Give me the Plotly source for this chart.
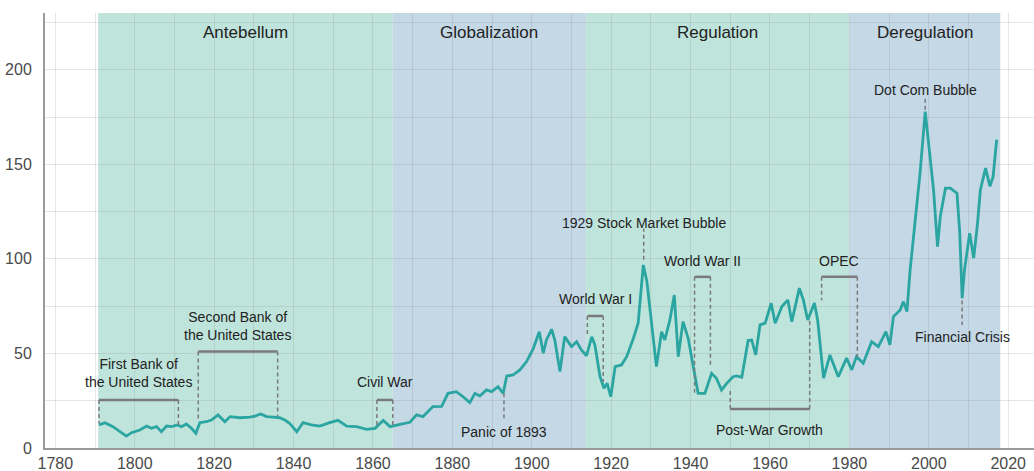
import plotly.graph_objects as go

# ---- data ----
years = [1791.0, 1792.5, 1794.5, 1796.3, 1797.9, 1799.2, 1801.3, 1803.0, 1804.2, 1805.5,
         1806.7, 1808.0, 1809.3, 1810.7, 1811.8, 1813.0, 1814.3, 1815.4, 1816.4, 1818.0,
         1819.3, 1821.0, 1822.7, 1824.0, 1826.5, 1829.0, 1830.3, 1831.7, 1833.2, 1834.9,
         1836.5, 1837.8, 1839.0, 1840.8, 1842.4, 1844.5, 1846.6, 1849.1, 1851.2, 1853.4,
         1855.9, 1858.4, 1860.5, 1862.6, 1864.3, 1866.8, 1869.3, 1871.0, 1872.6, 1875.1,
         1877.3, 1878.9, 1881.0, 1882.7, 1884.4, 1885.7, 1886.9, 1888.6, 1889.9, 1891.5,
         1892.8, 1893.7, 1895.3, 1897.0, 1898.7, 1900.4, 1901.9, 1902.9, 1903.7, 1905.0,
         1905.8, 1907.1, 1908.3, 1910.0, 1911.3, 1912.5, 1913.8, 1915.1, 1915.9, 1917.2,
         1918.2, 1919.0, 1919.9, 1921.0, 1922.6, 1923.9, 1925.6, 1926.8, 1928.1, 1929.0,
         1930.2, 1931.4, 1932.7, 1933.5, 1934.8, 1935.9, 1936.9, 1938.1, 1939.4, 1940.7,
         1941.9, 1943.6, 1945.3, 1946.5, 1947.8, 1949.1, 1950.7, 1951.6, 1952.9, 1954.5,
         1955.4, 1956.4, 1957.5, 1958.8, 1960.3, 1961.3, 1963.0, 1964.5, 1965.5, 1967.4,
         1968.4, 1969.5, 1971.2, 1972.0, 1973.5, 1975.1, 1977.2, 1979.3, 1980.6, 1981.8,
         1983.5, 1985.6, 1987.3, 1989.2, 1990.2, 1991.1, 1992.8, 1993.6, 1994.5, 1995.3,
         1996.6, 1997.8, 1999.1, 1999.7, 2000.4, 2001.2, 2002.2, 2002.9, 2004.2, 2005.4,
         2007.1, 2007.8, 2008.4, 2009.0, 2010.3, 2011.3, 2012.2, 2013.0, 2014.3, 2015.4,
         2016.2, 2017.1]
values = [12.2, 13.4, 11.3, 8.6, 6.3, 8.1, 9.5, 11.6, 10.4, 11.3,
          8.6, 11.6, 11.3, 12.2, 11.3, 12.7, 10.4, 7.8, 13.4, 13.9,
          14.8, 17.5, 13.9, 16.6, 16.0, 16.3, 16.9, 18.0, 16.6, 16.3,
          16.0, 14.8, 13.1, 8.6, 13.4, 12.2, 11.6, 13.4, 14.6, 11.6,
          11.3, 9.9, 10.4, 14.6, 11.3, 12.5, 13.6, 17.5, 16.6, 21.9,
          22.0, 28.9, 29.8, 27.1, 24.0, 28.9, 27.5, 30.7, 29.8, 32.4,
          28.9, 38.1, 38.6, 41.3, 45.7, 52.7, 61.5, 50.1, 57.1, 62.8,
          57.1, 40.4, 58.9, 53.6, 56.2, 51.9, 48.8, 58.8, 54.5, 37.7,
          31.6, 34.2, 27.1, 43.0, 43.9, 48.3, 58.0, 66.0, 96.8, 88.0,
          66.8, 43.0, 61.5, 57.1, 67.7, 80.9, 48.3, 66.8, 58.0, 43.0,
          28.9, 28.9, 39.5, 36.9, 30.7, 34.2, 37.7, 38.1, 37.4, 56.8,
          57.1, 49.2, 65.1, 66.0, 76.6, 66.0, 74.8, 78.3, 66.8, 84.5,
          78.3, 67.7, 76.6, 67.7, 36.9, 49.2, 37.7, 47.5, 41.3, 48.3,
          44.8, 56.2, 53.6, 61.5, 54.5, 69.5, 73.0, 77.4, 72.1, 94.2,
          122.4, 145.3, 177.9, 166.5, 152.4, 136.5, 106.5, 122.4, 137.4, 137.4,
          134.7, 113.6, 79.2, 94.2, 113.6, 100.4, 117.1, 136.5, 148.0, 138.3,
          143.5, 163.0]

era_names = ["Antebellum", "Globalization", "Regulation", "Deregulation"]
era_starts = [1790.8, 1865, 1913.7, 1980]
era_ends = [1865, 1913.7, 1980, 2018]
era_colors = ["#bfe4db", "#c4d8e6", "#bfe4db", "#c4d8e6"]

# brackets: label, start, end, bracket level, line value at start, line value at end
bracket_labels = ["First Bank of<br>the United States", "Second Bank of<br>the United States",
                  "Civil War", "World War I", "World War II", "OPEC"]
bracket_starts = [1791, 1816, 1861, 1914, 1941, 1973]
bracket_ends = [1811, 1836, 1865, 1918, 1945, 1982]
bracket_levels = [25.4, 51, 25.4, 69.8, 90.5, 90.5]
bracket_low_start = [13.1, 14.0, 12.2, 58.7, 29.0, 78.0]
bracket_low_end = [12.2, 16.6, 11.3, 34.9, 42.9, 48.0]
bracket_text_y = [39.7, 64.3, 34.9, 78.8, 98.9, 98.9]

# brackets below the line
low_labels = ["Post-War Growth"]
low_starts = [1950]
low_ends = [1970]
low_levels = [20.6]
low_top_start = [30.7]
low_top_end = [67.7]
low_text_y = [9.5]

# single-point markers: label, year, dash from, dash to, text y
point_labels = ["Panic of 1893", "1929 Stock Market Bubble", "Dot Com Bubble", "Financial Crisis"]
point_years = [1893, 1928.2, 1999.1, 2008.4]
point_dash_a = [29.0, 99.5, 178.8, 78.0]
point_dash_b = [14.8, 116.0, 185.7, 65.0]
point_text_y = [8.5, 119.0, 189.4, 58.7]

FONT = "Liberation Sans, Arial, sans-serif"
GRAY = "#7a7a7a"
ANN_SIZE = 14

fig = go.Figure()
fig.add_trace(go.Scatter(x=years, y=values, mode="lines",
                         line=dict(color="#2ba5a1", width=2.8), hoverinfo="skip",
                         showlegend=False))

for name, s, e, c in zip(era_names, era_starts, era_ends, era_colors):
    fig.add_shape(type="rect", xref="x", yref="paper", x0=s, x1=e, y0=0, y1=1,
                  fillcolor=c, line=dict(width=0), layer="below")
    fig.add_annotation(x=(s + e) / 2, y=219.5, text=name, showarrow=False,
                       font=dict(family=FONT, size=17, color="#222"))

dash_line = dict(color=GRAY, width=1.5, dash="4px,3px")
solid_line = dict(color=GRAY, width=2.5)

for lab, s, e, lvl, a, b, ty in zip(bracket_labels, bracket_starts, bracket_ends, bracket_levels,
                                     bracket_low_start, bracket_low_end, bracket_text_y):
    fig.add_shape(type="line", x0=s, x1=e, y0=lvl, y1=lvl, line=solid_line)
    fig.add_shape(type="line", x0=s, x1=s, y0=lvl, y1=a, line=dash_line)
    fig.add_shape(type="line", x0=e, x1=e, y0=lvl, y1=b, line=dash_line)
    fig.add_annotation(x=(s + e) / 2, y=ty, text=lab, showarrow=False,
                       font=dict(family=FONT, size=ANN_SIZE, color="#222"))

for lab, s, e, lvl, a, b, ty in zip(low_labels, low_starts, low_ends, low_levels,
                                     low_top_start, low_top_end, low_text_y):
    fig.add_shape(type="line", x0=s, x1=e, y0=lvl, y1=lvl, line=solid_line)
    fig.add_shape(type="line", x0=s, x1=s, y0=lvl, y1=a, line=dash_line)
    fig.add_shape(type="line", x0=e, x1=e, y0=lvl, y1=b, line=dash_line)
    fig.add_annotation(x=(s + e) / 2, y=ty, text=lab, showarrow=False,
                       font=dict(family=FONT, size=ANN_SIZE, color="#222"))

for lab, yr, a, b, ty in zip(point_labels, point_years, point_dash_a, point_dash_b, point_text_y):
    fig.add_shape(type="line", x0=yr, x1=yr, y0=a, y1=b, line=dash_line)
    fig.add_annotation(x=yr, y=ty, text=lab, showarrow=False,
                       font=dict(family=FONT, size=ANN_SIZE, color="#222"))

fig.update_layout(
    width=1034, height=471,
    margin=dict(l=45, r=0, t=13, b=23),
    paper_bgcolor="white", plot_bgcolor="white",
    font=dict(family=FONT),
    xaxis=dict(range=[1777.4, 2026.5], tick0=1780, dtick=20, showgrid=True,
               gridcolor="rgba(140,140,140,0.22)", gridwidth=1,
               minor=dict(dtick=10, showgrid=True, gridcolor="rgba(140,140,140,0.22)"),
               showline=True, linecolor="#9a9a9a", linewidth=2, zeroline=False,
               tickfont=dict(size=16, color="#4a4a4a"), ticks="", ticklabelstandoff=0),
    yaxis=dict(range=[0, 230], tick0=0, dtick=50, showgrid=True,
               gridcolor="rgba(140,140,140,0.22)", gridwidth=1,
               minor=dict(dtick=25, showgrid=True, gridcolor="rgba(140,140,140,0.22)"),
               showline=True, linecolor="#9a9a9a", linewidth=2, zeroline=False,
               tickfont=dict(size=16, color="#4a4a4a"), ticks="", ticklabelstandoff=8),
)

fig.write_html(
    "out.html",
    config={"displayModeBar": False},
    post_script="document.body.style.margin='0';document.body.style.overflow='hidden';",
)
